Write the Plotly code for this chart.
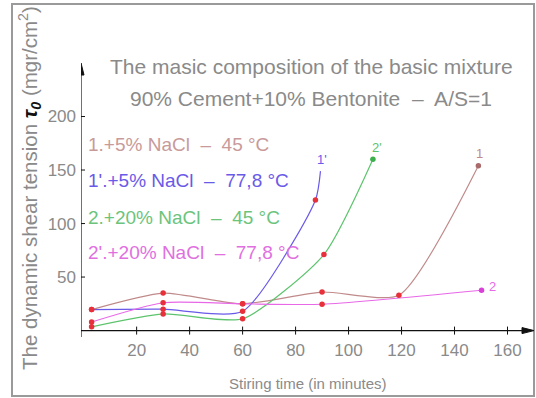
import plotly.graph_objects as go

# ---- data ----
x_brown = [3, 30, 60, 90, 119, 149]
y_brown = [19.6, 35, 25, 36, 33, 154]
x_blue = [3, 30, 60, 87.5, 89.4]
y_blue = [19.6, 20, 18, 122, 149]
x_green = [3, 30, 60, 90.7, 109.2]
y_green = [3.5, 15.6, 11, 71, 160]
x_mag = [3, 30, 60, 90, 150.2]
y_mag = [8, 26, 25, 24.6, 37.7]

x_ticks = [20, 40, 60, 80, 100, 120, 140, 160]
y_ticks = [50, 100, 150, 200]

legend_lines = ["1.+5% NaCl  –  45 °C", "1'.+5% NaCl  –  77,8 °C",
                "2.+20% NaCl  –  45 °C", "2'.+20% NaCl  –  77,8 °C"]
curve_labels = ["1", "1'", "2'", "2"]

W, H = 536, 398
L, R, T, B = 81, 2, 63, 61
PW, PH = W - L - R, H - T - B

def px(x):
    return (x - L) / PW

def py(y):
    return (H - B - y) / PH

C_BROWN = "#c08a8a"
C_BLUE = "#6a5ae8"
C_GREEN = "#5cc46c"
C_MAG = "#e868e8"
RED = "#e8303a"
TXT = "#8a8a8a"
FONT = "Liberation Sans"

fig = go.Figure()

series = [
    (x_brown, y_brown, C_BROWN, [RED] * 5 + ["#a86a6a"]),
    (x_blue, y_blue, C_BLUE, [RED] * 4 + ["rgba(0,0,0,0)"]),
    (x_green, y_green, C_GREEN, [RED] * 4 + ["#3cb04c"]),
    (x_mag, y_mag, C_MAG, [RED] * 4 + ["#d840d8"]),
]
for xs, ys, col, mcols in series:
    fig.add_trace(go.Scatter(x=xs, y=ys, mode="lines",
                             line=dict(color=col, width=1.2, shape="spline", smoothing=0.6),
                             hoverinfo="skip", showlegend=False))
for xs, ys, col, mcols in series:
    fig.add_trace(go.Scatter(x=xs, y=ys, mode="markers",
                             marker=dict(color=mcols, size=5.5),
                             showlegend=False))

# axes lines and arrowheads
X_END, Y_END = 170, 250
fig.add_shape(type="line", xref="x", yref="y", x0=-2, x1=X_END - 3, y0=0, y1=0,
              line=dict(color="#111", width=1.2))
fig.add_shape(type="line", xref="x", yref="y", x0=-1, x1=-1, y0=-6, y1=Y_END - 5,
              line=dict(color="#111", width=1.2))
fig.add_shape(type="path", xref="x", yref="y", xsizemode="pixel", ysizemode="pixel",
              xanchor=X_END, yanchor=0, path="M0,0 L-12,-3 L-12,3 Z",
              fillcolor="#111", line=dict(color="#111", width=1))
fig.add_shape(type="path", xref="x", yref="y", xsizemode="pixel", ysizemode="pixel",
              xanchor=-1, yanchor=Y_END, path="M0,0 L-3,-12 L3,-12 Z",
              fillcolor="#111", line=dict(color="#111", width=1))
for t in x_ticks:
    fig.add_shape(type="line", xref="x", yref="y", x0=t, x1=t, ysizemode="pixel", yanchor=0,
                  y0=-4, y1=4, line=dict(color="#111", width=1))
for t in y_ticks:
    fig.add_shape(type="line", xref="x", yref="y", y0=t, y1=t, xsizemode="pixel", xanchor=-1,
                  x0=-4, x1=4, line=dict(color="#111", width=1))

# frame
fig.add_shape(type="rect", xref="paper", yref="paper", x0=px(12), x1=px(534), y0=py(396), y1=py(4),
              line=dict(color="#9a9a9a", width=2), layer="below")

# titles
fig.add_annotation(xref="paper", yref="paper", x=px(311), y=py(66), xanchor="center", yanchor="middle",
                   text="The masic composition of the basic mixture", showarrow=False,
                   font=dict(family=FONT, size=21, color=TXT))
fig.add_annotation(xref="paper", yref="paper", x=px(311), y=py(99), xanchor="center", yanchor="middle",
                   text="90% Cement+10% Bentonite  –  A/S=1", showarrow=False,
                   font=dict(family=FONT, size=21, color=TXT))
fig.add_annotation(xref="paper", yref="paper", x=px(308), y=py(383), xanchor="center", yanchor="middle",
                   text="Stiring time (in minutes)", showarrow=False,
                   font=dict(family=FONT, size=15, color=TXT))
fig.add_annotation(xref="paper", yref="paper", x=px(29), y=py(188), textangle=-90,
                   xanchor="center", yanchor="middle",
                   text="The dynamic shear tension <b><i><span style='color:#111'>τ</span></i></b><sub><b><i><span style='color:#111'>0</span></i></b></sub> (mgr/cm<sup>2</sup>)",
                   showarrow=False, font=dict(family=FONT, size=20.5, color=TXT))

# legend texts
leg_cols = ["#c89a9a", "#6a5ae8", "#6cc47c", "#e070e0"]
leg_y = [144, 180, 217, 252]
for txt, col, yy in zip(legend_lines, leg_cols, leg_y):
    fig.add_annotation(xref="paper", yref="paper", x=px(86), y=py(yy), xanchor="left", yanchor="middle",
                       text=txt, showarrow=False, font=dict(family=FONT, size=19, color=col))

# curve labels
lab_pos = [(149.4, 165), (90, 160), (110.6, 171), (154.5, 41)]
lab_cols = [C_BROWN, C_BLUE, C_GREEN, C_MAG]
for txt, (lx, ly), col in zip(curve_labels, lab_pos, lab_cols):
    fig.add_annotation(x=lx, y=ly, xref="x", yref="y", text=txt, showarrow=False,
                       font=dict(family=FONT, size=13, color=col))

fig.update_layout(
    width=W, height=H, margin=dict(l=L, r=R, t=T, b=B),
    paper_bgcolor="white", plot_bgcolor="white",
    xaxis=dict(range=[-1, 170], showgrid=False, zeroline=False, showline=False,
               tickvals=x_ticks, ticks="", ticklabelstandoff=1,
               tickfont=dict(family=FONT, size=17, color=TXT)),
    yaxis=dict(range=[-6, 250], showgrid=False, zeroline=False, showline=False,
               tickvals=y_ticks, ticks="", ticklabelstandoff=4,
               tickfont=dict(family=FONT, size=17, color=TXT)),
)

fig.write_html("out.html", config={"displayModeBar": False},
               post_script="document.body.style.margin='0';")
